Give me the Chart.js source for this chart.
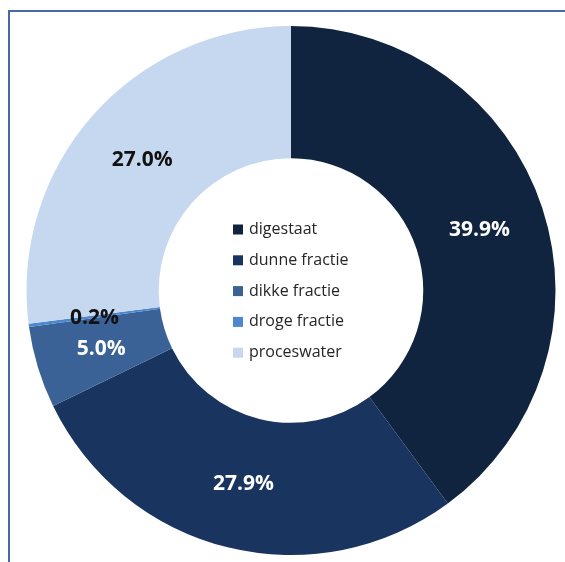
<!DOCTYPE html>
<html>
<head>
<meta charset="utf-8">
<script src="https://cdn.jsdelivr.net/npm/chart.js@4"></script>
<style>
    html, body { margin: 0; padding: 0; background: #ffffff; }
    #wrap { position: relative; width: 565px; height: 562px; overflow: hidden; }
    #frame {
        position: absolute; left: 8px; top: 10px; width: 600px; height: 600px;
        border-top: 2px solid #4668a3; border-left: 2px solid #4668a3;
    }
    canvas { position: absolute; left: 0; top: 0; }
</style>
</head>
<body>
<div id="wrap">
    <div id="frame"></div>
    <canvas id="chartFracties" width="565" height="562"></canvas>
</div>
<script>
// verdeling over de fracties (%)
const categorias = ["digestaat", "dunne fractie", "dikke fractie", "droge fractie", "proceswater"];
const percentuais = [39.9, 27.9, 5.0, 0.2, 27.0];
const cores = ["#10243f", "#19355f", "#3a6297", "#4d87d0", "#c6d8ef"];
const coresTexto = ["#ffffff", "#ffffff", "#ffffff", "#111111", "#111111"];

// rótulos de percentagem no meio de cada fatia
const rotulosPlugin = {
    id: "rotulos",
    afterDatasetsDraw(chart) {
        const ctx = chart.ctx;
        const meta = chart.getDatasetMeta(0);
        ctx.save();
        ctx.font = "bold 21px 'Open Sans', sans-serif";
        ctx.textAlign = "center";
        ctx.textBaseline = "middle";
        meta.data.forEach((arc, i) => {
            const pos = arc.tooltipPosition();
            ctx.fillStyle = coresTexto[i];
            ctx.fillText(percentuais[i].toFixed(1) + "%", pos.x, pos.y + 1);
        });
        ctx.restore();
    },
};

// legenda no buraco do donut
const legendaPlugin = {
    id: "legendaCentro",
    afterDraw(chart) {
        const ctx = chart.ctx;
        const meta = chart.getDatasetMeta(0);
        const cx = meta.data[0].x;
        const cy = meta.data[0].y;
        const passo = 30.8;
        const x0 = cx - 58;
        const y0 = cy - 61;
        ctx.save();
        ctx.font = "16px 'Open Sans', sans-serif";
        ctx.textBaseline = "middle";
        ctx.textAlign = "left";
        categorias.forEach((nome, i) => {
            const y = y0 + i * passo;
            ctx.fillStyle = cores[i];
            ctx.fillRect(x0, y - 5, 10, 10);
            ctx.fillStyle = "#262626";
            ctx.fillText(nome, x0 + 16, y);
        });
        ctx.restore();
    },
};

const ctxF = document.getElementById("chartFracties");

new Chart(ctxF, {
    type: "doughnut",
    data: {
        labels: categorias,
        datasets: [
            {
                data: percentuais,
                backgroundColor: cores,
                borderWidth: 0,
            },
        ],
    },
    options: {
        responsive: false,
        animation: false,
        cutout: "50%",
        layout: {
            padding: { left: 26, right: 9, top: 26, bottom: 7 },
        },
        plugins: {
            legend: { display: false },
            tooltip: { enabled: false },
        },
    },
    plugins: [rotulosPlugin, legendaPlugin],
});
</script>
</body>
</html>
